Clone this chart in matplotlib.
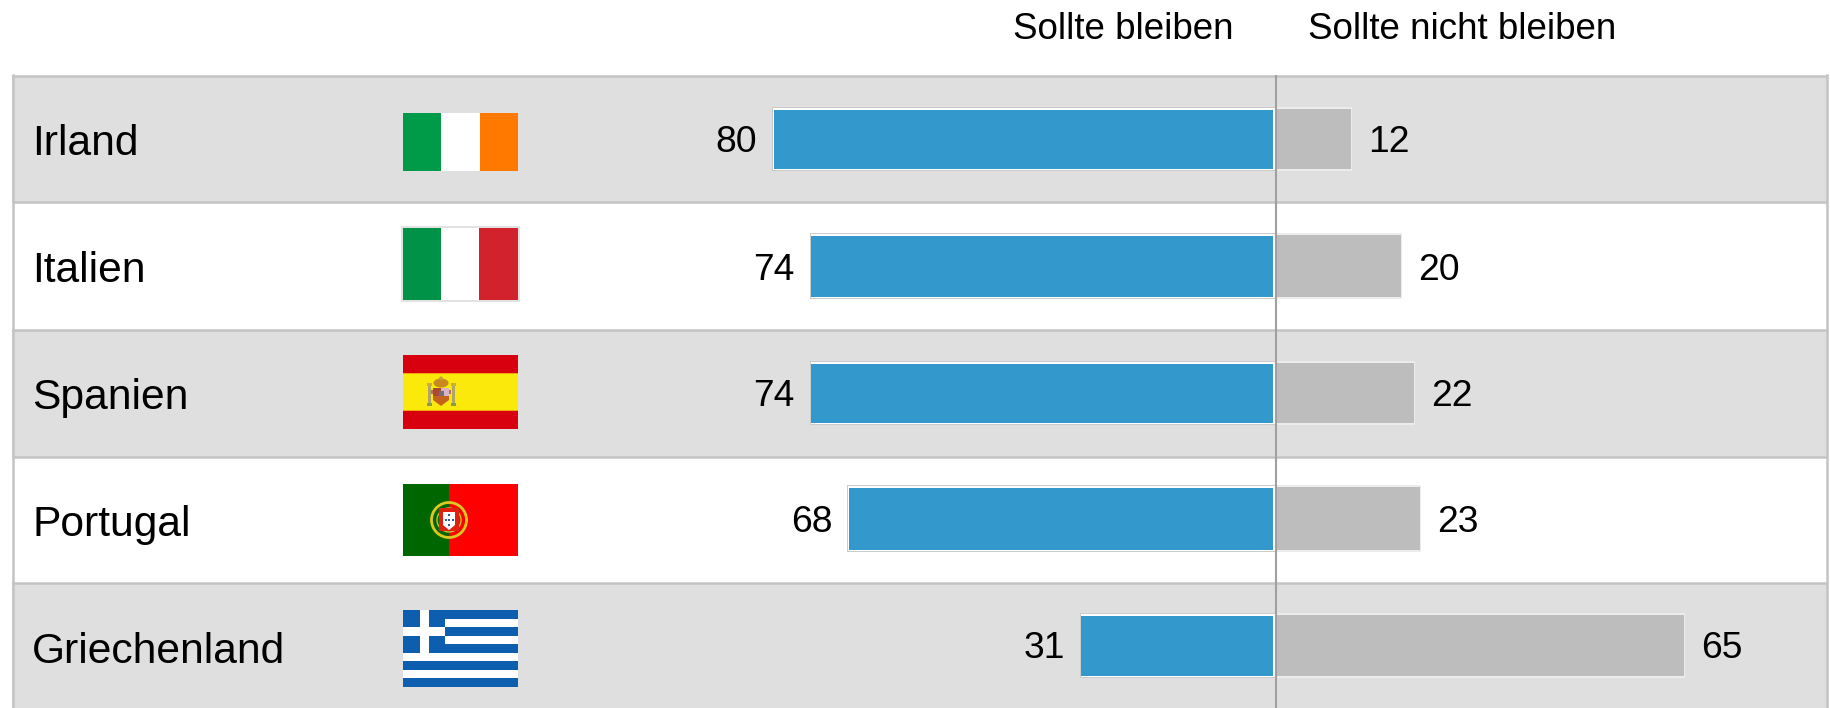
import matplotlib
matplotlib.use('Agg')
from matplotlib import pyplot as plt
from matplotlib.patches import Rectangle, Circle, Ellipse, Polygon

plt.rcParams['font.family'] = ['Liberation Sans', 'DejaVu Sans']

countries = ['Irland', 'Italien', 'Spanien', 'Portugal', 'Griechenland']
stay = [80, 74, 74, 68, 31]
leave = [12, 20, 22, 23, 65]
header_stay = 'Sollte bleiben'
header_leave = 'Sollte nicht bleiben'

# layout in pixels of the 1830x708 picture
W, H = 1830, 708
zero_x = 1276
px_per_unit = 6.28
table_l, table_r = 12, 1827
row_edges = [76, 202, 330, 457, 583, 708]
bar_top = [107, 233, 361, 485, 613]
bar_bottom = [171, 299, 425, 552, 678]
bar_mid = [(a + b) / 2 for a, b in zip(bar_top, bar_bottom)]
bar_h = [b - a for a, b in zip(bar_top, bar_bottom)]
name_base = [155, 282, 409, 536, 663]
num_base = [152, 280, 406, 532, 658]

fig = plt.figure(figsize=(18.3, 7.08), dpi=100, facecolor='white')

bg = fig.add_axes([0, 0, 1, 1])
bg.set_xlim(0, W)
bg.set_ylim(H, 0)
bg.axis('off')

ax = fig.add_axes([0, 0, 1, 1], facecolor='none')
ax.set_xlim(-zero_x / px_per_unit, (W - zero_x) / px_per_unit)
ax.set_ylim(H, 0)
ax.axis('off')


def rect(x0, y0, x1, y1, color, z=3):
    bg.add_patch(Rectangle((x0, y0), x1 - x0, y1 - y0, facecolor=color, edgecolor='none', zorder=z))


# table rows
for i in range(5):
    if i % 2 == 0:
        rect(table_l, row_edges[i], table_r, row_edges[i + 1], '#dfdfdf', 1)
for y in row_edges[:-1]:
    bg.plot([table_l, table_r], [y, y], color='#c4c4c4', lw=1.8, zorder=2, solid_capstyle='butt')
bg.plot([table_l + .5, table_l + .5], [75, 708], color='#c4c4c4', lw=1.8, zorder=2)
bg.plot([table_r - .5, table_r - .5], [75, 708], color='#c4c4c4', lw=1.8, zorder=2)

for name, y in zip(countries, name_base):
    bg.text(32, y, name, fontsize=30.7, color='black', ha='left', va='baseline', zorder=4)

bg.text(1013, 39, header_stay, fontsize=26.5, color='black', ha='left', va='baseline')
bg.text(1308, 39, header_leave, fontsize=26.5, color='black', ha='left', va='baseline')

# flags
fl, fr = 403, 518
# Irland
rect(fl, 113, fl + 38, 171, '#009b48')
rect(fl + 38, 113, fl + 77, 171, '#ffffff')
rect(fl + 77, 113, fr, 171, '#ff7900')
# Italien
rect(401, 226, 520, 302, '#e2e2e2')
rect(403, 228, 441, 300, '#009246')
rect(441, 228, 479, 300, '#ffffff')
rect(479, 228, 518, 300, '#d2232c')
# Spanien
rect(fl, 355, fr, 429, '#d8000f')
rect(fl, 373, fr, 411, '#fbe90c')
rect(fl, 373, fr, 374, '#f2a70e')
rect(fl, 410, fr, 411, '#f2a70e')
bg.add_patch(Polygon([(433, 388), (449, 388), (449, 400), (441, 406), (433, 400)],
                     facecolor='#c4641c', edgecolor='none', zorder=4))
rect(433, 388, 441, 396, '#a84a30', 5)
rect(441, 388, 449, 396, '#d8b4c4', 5)
rect(439, 391, 444, 396, '#7a6a80', 6)
bg.add_patch(Ellipse((441, 383), 15, 9, facecolor='#c88a20', edgecolor='none', zorder=5))
bg.add_patch(Ellipse((441, 378.5), 4, 4, facecolor='#c8a030', edgecolor='none', zorder=5))
for px in (428, 452):
    rect(px, 385, px + 3, 403, '#b0a468', 4)
    rect(px - 1, 403, px + 4, 406, '#8c9a50', 4)
    rect(px - 1, 383, px + 4, 386, '#c8b040', 4)
    rect(px + (3 if px < 440 else -3), 390, px + (5 if px < 440 else -1), 394, '#c06a50', 4)
# Portugal
rect(fl, 484, 449, 556, '#006600')
rect(449, 484, fr, 556, '#ff0000')
bg.add_patch(Circle((449, 520), 17.5, facecolor='none', edgecolor='#dcc81e', lw=2, zorder=4))
bg.add_patch(Circle((449, 520), 12, facecolor='none', edgecolor='#c8c030', lw=1, zorder=4))
rect(439, 508, 459, 531, '#e02010', 5)
bg.add_patch(Polygon([(443, 512), (455, 512), (455, 525), (449, 530), (443, 525)],
                     facecolor='white', edgecolor='none', zorder=6))
for dx, dy in [(0, -4), (-3.5, 1), (0, 1), (3.5, 1), (0, 6)]:
    rect(448 + dx, 519 + dy - 1, 450 + dx, 521 + dy - 1, '#3a55a0', 7)
# Griechenland
gt, gb = 610, 687
stripe = (gb - gt) / 9
for k in range(9):
    rect(fl, gt + k * stripe, fr, gt + (k + 1) * stripe, '#0d5eaf' if k % 2 == 0 else '#ffffff')
rect(fl, gt, 445, gt + 5 * stripe, '#0d5eaf', 4)
rect(420, gt, 429, gt + 5 * stripe, '#ffffff', 5)
rect(fl, gt + 2 * stripe, 445, gt + 3 * stripe, '#ffffff', 5)

# bars
ax.barh(bar_mid, [-(v + 0.25) for v in stay], height=bar_h, color='#cbcbcb', edgecolor='none', zorder=3)
ax.barh(bar_mid, [-(v + 0.1) for v in stay], height=[h - 2 for h in bar_h], color='white', edgecolor='none', zorder=4)
ax.barh(bar_mid, [-(v - 0.4) for v in stay], left=-0.4, height=[h - 5 for h in bar_h], color='#3399cc',
        edgecolor='none', zorder=5)
ax.barh(bar_mid, [v + 0.1 for v in leave], height=bar_h, color='#ececec', edgecolor='none', zorder=3)
ax.barh(bar_mid, [v - 0.1 for v in leave], height=[h - 4 for h in bar_h], color='#bdbdbd', edgecolor='none', zorder=4)
ax.plot([0, 0], [75, 708], color='#a0a0a0', lw=1.5, zorder=6, solid_capstyle='butt')

for y, a, b in zip(num_base, stay, leave):
    ax.annotate(str(a), (-a, y), xytext=(-12, 0), textcoords='offset points', ha='right',
                va='baseline', fontsize=26.8, color='black')
    ax.annotate(str(b), (b, y), xytext=(12, 0), textcoords='offset points', ha='left',
                va='baseline', fontsize=26.8, color='black')

plt.savefig('out.png', dpi=100)
plt.close()
